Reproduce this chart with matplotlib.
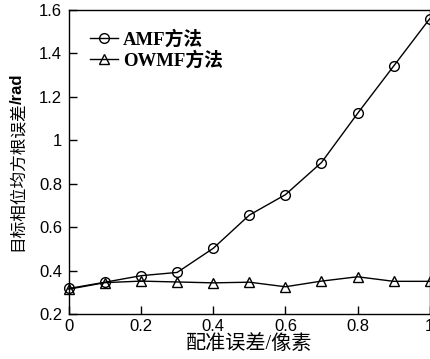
import matplotlib
matplotlib.use("Agg")
import matplotlib.pyplot as plt

# Registration error (pixels) and phase RMSE (rad) for the two methods
registration_error = [0, 0.1, 0.2, 0.3, 0.4, 0.5, 0.6, 0.7, 0.8, 0.9, 1.0]
amf_rmse = [0.318, 0.347, 0.377, 0.392, 0.503, 0.656, 0.750, 0.898, 1.124, 1.342, 1.560]
owmf_rmse = [0.315, 0.345, 0.352, 0.348, 0.344, 0.347, 0.326, 0.352, 0.372, 0.351, 0.351]

xticks = [0, 0.2, 0.4, 0.6, 0.8, 1.0]
xtick_labels = ["0", "0.2", "0.4", "0.6", "0.8", "1"]
yticks = [0.2, 0.4, 0.6, 0.8, 1.0, 1.2, 1.4, 1.6]
ytick_labels = ["0.2", "0.4", "0.6", "0.8", "1", "1.2", "1.4", "1.6"]

ylabel_main = "目标相位均方根误差"
ylabel_unit = "/rad"

label_font = ["Liberation Serif", "Noto Sans CJK SC"]
sans_cjk = ["Liberation Sans", "Noto Sans CJK SC"]

fig = plt.figure(figsize=(4.31, 3.59), dpi=100)
ax = fig.add_axes([0.160, 0.125, 0.837, 0.847])

ax.plot(registration_error, amf_rmse, color="black", lw=1.0, marker="o",
        markersize=7, markerfacecolor="none", markeredgecolor="black",
        markeredgewidth=1.0, label="AMF方法", clip_on=False, zorder=3)
ax.plot(registration_error, owmf_rmse, color="black", lw=1.0, marker="^",
        markersize=6.5, markerfacecolor="none", markeredgecolor="black",
        markeredgewidth=1.0, label="OWMF方法", clip_on=False, zorder=3)

ax.set_xlim(0, 1)
ax.set_ylim(0.2, 1.6)
ax.set_xticks(xticks)
ax.set_xticklabels(xtick_labels)
ax.set_yticks(yticks)
ax.set_yticklabels(ytick_labels)
ax.tick_params(direction="in", length=6, width=1, labelsize=12,
               top=False, right=False)
ax.tick_params(axis="y", pad=5)
for lbl in ax.get_xticklabels() + ax.get_yticklabels():
    lbl.set_family("Liberation Sans")

for s in ax.spines.values():
    s.set_linewidth(1.0)

ax.set_xlabel("配准误差/像素", family=label_font, fontsize=14.5, labelpad=1)

# Y label: regular CJK part followed by a bold unit, stacked vertically
ylab_x, ylab_size = 0.040, 12
t_main = fig.text(ylab_x, 0.5, ylabel_main, rotation=90, family=sans_cjk,
                  fontsize=ylab_size, ha="center", va="bottom")
t_unit = fig.text(ylab_x, 0.5, ylabel_unit, rotation=90, family=sans_cjk,
                  fontsize=ylab_size, fontweight="bold", ha="center", va="bottom")
fig.canvas.draw()
r = fig.canvas.get_renderer()
h_main = t_main.get_window_extent(r).height - 2
h_unit = t_unit.get_window_extent(r).height
fig_h = fig.bbox.height
center_px = (ax.get_position().y0 + ax.get_position().y1) / 2 * fig_h
start_px = center_px - (h_main + h_unit) / 2
t_main.set_position((ylab_x, start_px / fig_h))
t_unit.set_position((ylab_x, (start_px + h_main) / fig_h))

leg = ax.legend(loc="upper left", bbox_to_anchor=(0.037, 0.96), frameon=False,
                handlelength=1.5, handletextpad=0.27, borderaxespad=0.0,
                labelspacing=0.15,
                prop={"family": label_font, "size": 13.5, "weight": "bold"})

fig.savefig("out.png", dpi=100)
